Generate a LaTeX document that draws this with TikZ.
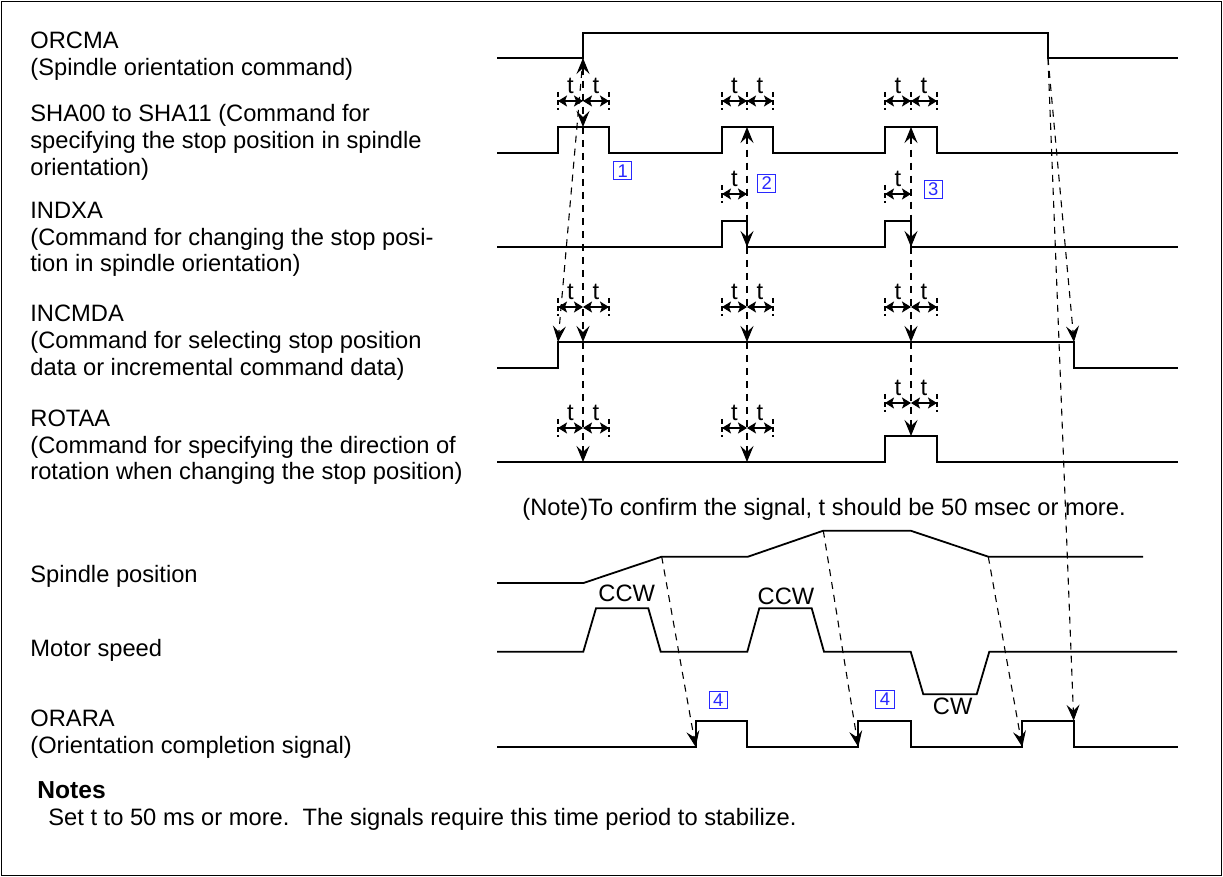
\documentclass[tikz,border=0pt]{standalone}
\usepackage{fontspec}
\setmainfont{Liberation Sans}
\usetikzlibrary{arrows.meta}
\definecolor{boxblue}{RGB}{40,40,255}
\newcommand\tpair[5]{%
  \draw[tick] (#2,#5-9) -- (#2,#5+9);
  \draw[tick] (#4,#5-9) -- (#4,#5+9);
  \coordinate (#1L) at (#2,#5);
  \coordinate (#1C) at (#3,#5);
  \coordinate (#1R) at (#4,#5);
  \draw[tarr] (#1L) -- (#1C);
  \draw[tarr] (#1C) -- (#1R);
  \node[tl] (#1a) at ({(#2+#3)/2},#5-15) {t};
  \node[tl] (#1b) at ({(#3+#4)/2},#5-15) {t};
}
\begin{document}
\frenchspacing
\begin{tikzpicture}[x=0.5pt,y=-0.5pt,
 wave/.style={line width=0.9pt},
 dsh/.style={line width=0.55pt,dash pattern=on 3.5pt off 3pt},
 darr/.style={dsh,-{Stealth[length=8pt,width=6.5pt,inset=3pt]}},
 dbarr/.style={dsh,{Stealth[length=8pt,width=6.5pt,inset=3pt]}-{Stealth[length=8pt,width=6.5pt,inset=3pt]}},
 tarr/.style={line width=0.7pt,{Stealth[length=4.5pt,width=5.5pt,inset=1pt]}-{Stealth[length=4.5pt,width=5.5pt,inset=1pt]}},
 tick/.style={line width=0.55pt,dash pattern=on 2.5pt off 1.5pt},
 lbl/.style={font=\fontsize{11.85}{13.35}\selectfont,inner sep=0pt,anchor=base west},
 tl/.style={font=\fontsize{11.85}{13.35}\selectfont,inner sep=0pt},
 bx/.style={draw=boxblue,text=boxblue,line width=0.55pt,minimum width=9.2pt,minimum height=8.8pt,inner sep=0pt,font=\fontsize{9.2}{10}\selectfont},
]
\useasboundingbox (0,0) rectangle (1223,877);
\draw[line width=0.75pt] (1.5,1.5) rectangle (1221.5,875.5);

% ---------- left labels ----------
\node[lbl] (l1a) at (30,48.4) {ORCMA};
\node[lbl] (l1b) at (30,75.4) {(Spindle orientation command)};
\node[lbl] (l2a) at (30,121.4) {SHA00 to SHA11 (Command for};
\node[lbl] (l2b) at (30,148.4) {specifying the stop position in spindle};
\node[lbl] (l2c) at (30,175.4) {orientation)};
\node[lbl] (l3a) at (30,218.4) {INDXA};
\node[lbl] (l3b) at (30,245.4) {(Command for changing the stop posi-};
\node[lbl] (l3c) at (30,271.9) {tion in spindle orientation)};
\node[lbl] (l4a) at (30,321.4) {INCMDA};
\node[lbl] (l4b) at (30,348.4) {(Command for selecting stop position};
\node[lbl] (l4c) at (30,375.4) {data or incremental command data)};
\node[lbl] (l5a) at (30,426.4) {ROTAA};
\node[lbl] (l5b) at (30,453.4) {(Command for specifying the direction of};
\node[lbl] (l5c) at (30,479.9) {rotation when changing the stop position)};
\node[lbl] (note) at (522,515.4) {(Note)To confirm the signal, t should be 50 msec or more.};
\node[lbl] (l6) at (30,582.4) {Spindle position};
\node[lbl] (l7) at (30,656.4) {Motor speed};
\node[lbl] (l8a) at (30,726.4) {ORARA};
\node[lbl] (l8b) at (30,753.4) {(Orientation completion signal)};
\node[lbl,font=\fontsize{12.3}{14}\selectfont\bfseries] (nh) at (37,798.4) {Notes};
\node[lbl] (nt) at (48,825.4) {Set t to 50 ms or more.\ \ The signals require this time period to stabilize.};

% ---------- waveforms ----------
\draw[wave] (497,58) -- (583,58) -- (583,33) -- (1048,33) -- (1048,58) -- (1178,58);
\draw[wave] (497,153) -- (558,153) -- (558,127) -- (609,127) -- (609,153) -- (722,153) -- (722,127) -- (773,127) -- (773,153) -- (885,153) -- (885,127) -- (937,127) -- (937,153) -- (1178,153);
\draw[wave] (497,247) -- (722,247) -- (722,221) -- (747,221) -- (747,247) -- (885,247) -- (885,221) -- (911,221) -- (911,247) -- (1178,247);
\draw[wave] (497,368) -- (558,368) -- (558,342) -- (1074,342) -- (1074,368) -- (1178,368);
\draw[wave] (497,462) -- (885,462) -- (885,436) -- (937,436) -- (937,462) -- (1178,462);
\draw[wave] (497,583) -- (583.5,583) -- (661.7,556.7) -- (748,556.7) -- (823.3,530.7) -- (910.7,530.7) -- (988.3,556.7) -- (1143,556.7);
\draw[wave] (497,651.7) -- (583.3,651.7) -- (596,608.3) -- (648.3,608.3) -- (660.7,651.7) -- (747.3,651.7) -- (759.3,608.3) -- (811.7,608.3) -- (824,651.7) -- (910.7,651.7) -- (923.3,694.3) -- (976.7,694.3) -- (989.3,651.7) -- (1177,651.7);
\draw[wave] (497,747) -- (695.7,747) -- (695.7,720.7) -- (747,720.7) -- (747,747) -- (858.3,747) -- (858.3,720.7) -- (910.7,720.7) -- (910.7,747) -- (1022.3,747) -- (1022.3,720.7) -- (1073.7,720.7) -- (1073.7,747) -- (1178,747);

% ---------- key points ----------
\coordinate (or1) at (583,58);
\coordinate (or2) at (1048,58);
\coordinate (sh1) at (583,127);
\coordinate (sh2) at (747,127);
\coordinate (sh3) at (911,127);
\coordinate (ix2) at (747,247);
\coordinate (ix3) at (911,247);
\coordinate (ic0) at (558,342);
\coordinate (ic1) at (583,342);
\coordinate (ic2) at (747,342);
\coordinate (ic3) at (911,342);
\coordinate (icf) at (1074,342);
\coordinate (ro1) at (583,462);
\coordinate (ro2) at (747,462);
\coordinate (ro3) at (911,436);
\coordinate (sp1) at (661.7,556.7);
\coordinate (sp2) at (823.3,530.7);
\coordinate (sp3) at (988.3,556.7);
\coordinate (oa1) at (695.7,747);
\coordinate (oa2) at (858.3,747);
\coordinate (oa3) at (1022.3,747);
\coordinate (oaf) at (1073.7,720.7);

% ---------- dashed timing arrows ----------
\draw[dbarr] (or1) -- (sh1);
\draw[darr] (sh1) -- (ic1);
\draw[darr] (or1) -- (ic0);
\draw[darr] (ic1) -- (ro1);
\draw[dbarr] (sh2) -- (ix2);
\draw[darr] (ix2) -- (ic2);
\draw[darr] (ic2) -- (ro2);
\draw[dbarr] (sh3) -- (ix3);
\draw[darr] (ix3) -- (ic3);
\draw[darr] (ic3) -- (ro3);
\draw[darr] (or2) -- (icf);
\draw[darr] (or2) -- (oaf);
\draw[darr] (sp1) -- (oa1);
\draw[darr] (sp2) -- (oa2);
\draw[darr] (sp3) -- (oa3);

% ---------- t intervals ----------
\tpair{sa}{558}{583}{609}{101}
\tpair{sb}{722}{747}{773}{101}
\tpair{sc}{885}{911}{937}{101}
\draw[tick] (747,92) -- (747,110);
\draw[tick] (911,92) -- (911,110);
\tpair{ca}{558}{583}{609}{307}
\tpair{cb}{722}{747}{773}{307}
\tpair{cc}{885}{911}{937}{307}
\tpair{ra}{558}{583}{609}{428}
\tpair{rb}{722}{747}{773}{428}
\tpair{rc}{885}{911}{937}{403}
% INDXA single t
\draw[tick] (722,185) -- (722,203);
\draw[tick] (885,185) -- (885,203);
\coordinate (ib1) at (722,194);
\coordinate (ib2) at (747,194);
\coordinate (ic31) at (885,194);
\coordinate (ic32) at (911,194);
\draw[tarr] (ib1) -- (ib2);
\draw[tarr] (ic31) -- (ic32);
\node[tl] (ibt) at (734.5,179) {t};
\node[tl] (ict) at (898,179) {t};

% ---------- boxed numbers ----------
\node[bx] (b1) at (622.7,170.7) {1};
\node[bx] (b2) at (766.7,183.3) {2};
\node[bx] (b3) at (933.3,189.3) {3};
\node[bx] (b4a) at (718.3,700) {4};
\node[bx] (b4b) at (885,699.3) {4};

% ---------- direction labels ----------
\node[tl] (ccw1) at (626.7,593.3) {CCW};
\node[tl] (ccw2) at (786,596.7) {CCW};
\node[tl] (cw) at (952.7,706.7) {CW};
\end{tikzpicture}
\end{document}
